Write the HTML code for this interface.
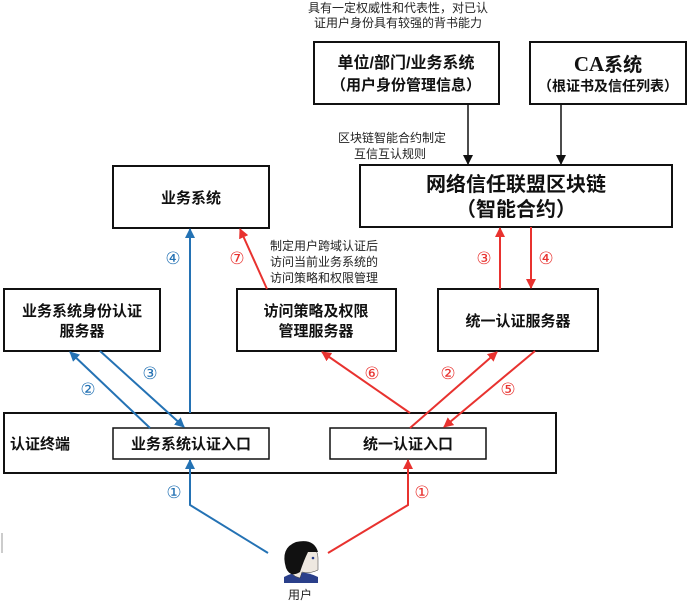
<!DOCTYPE html>
<html><head><meta charset="utf-8"><style>
body{margin:0;background:#fff;}
svg{display:block;font-family:"Liberation Sans","Noto Sans CJK SC",sans-serif;}
.b{font-weight:bold;fill:#111;}
</style></head><body>
<svg width="689" height="603" viewBox="0 0 689 603">
<defs>
<marker id="ab" markerWidth="10" markerHeight="10" refX="9" refY="5" orient="auto" markerUnits="userSpaceOnUse"><path d="M0,0 L10,5 L0,10 z" fill="#2472b4"/></marker>
<marker id="ar" markerWidth="10" markerHeight="10" refX="9" refY="5" orient="auto" markerUnits="userSpaceOnUse"><path d="M0,0 L10,5 L0,10 z" fill="#e8322f"/></marker>
<marker id="ak" markerWidth="10" markerHeight="10" refX="9" refY="5" orient="auto" markerUnits="userSpaceOnUse"><path d="M0,0 L10,5 L0,10 z" fill="#111"/></marker>
</defs>
<g fill="#fff" stroke="#111" stroke-width="2">
<rect x="314" y="42" width="185" height="62"/>
<rect x="530" y="42" width="156" height="62"/>
<rect x="360" y="165" width="312" height="62"/>
<rect x="113" y="166" width="156" height="62"/>
<rect x="4" y="289" width="156" height="62"/>
<rect x="237" y="289" width="159" height="62"/>
<rect x="438" y="289" width="160" height="62"/>
<rect x="4" y="413" width="552" height="60"/>
</g>
<g fill="#fff" stroke="#111" stroke-width="1.5">
<rect x="113" y="428" width="156" height="31"/>
<rect x="330" y="428" width="156" height="31"/>
</g>

<g class="b" text-anchor="middle">
<text x="406" y="68" font-size="16">单位/部门/业务系统</text>
<text x="406" y="90" font-size="15">（用户身份管理信息）</text>
<text x="608" y="71" font-size="21" font-family="Liberation Serif,Noto Serif CJK SC,serif">CA<tspan font-family="Liberation Sans,Noto Sans CJK SC,sans-serif" font-size="19">系统</tspan></text>
<text x="608" y="91" font-size="14">（根证书及信任列表）</text>
<text x="516" y="191" font-size="20">网络信任联盟区块链</text>
<text x="516" y="216" font-size="20">（智能合约）</text>
<text x="191" y="203" font-size="15">业务系统</text>
<text x="82" y="316" font-size="15">业务系统身份认证</text>
<text x="82" y="336" font-size="15">服务器</text>
<text x="316" y="316" font-size="15">访问策略及权限</text>
<text x="316" y="336" font-size="15">管理服务器</text>
<text x="518" y="326" font-size="15">统一认证服务器</text>
<text x="191" y="449" font-size="15">业务系统认证入口</text>
<text x="408" y="449" font-size="15">统一认证入口</text>
<text x="10" y="449" font-size="15" text-anchor="start">认证终端</text>
</g>
<g font-size="12" fill="#222" text-anchor="middle">
<text x="398" y="12">具有一定权威性和代表性，对已认</text>
<text x="398" y="27">证用户身份具有较强的背书能力</text>
<text x="392" y="142">区块链智能合约制定</text>
<text x="390" y="158">互信互认规则</text>
<text x="270" y="250" text-anchor="start">制定用户跨域认证后</text>
<text x="270" y="266" text-anchor="start">访问当前业务系统的</text>
<text x="270" y="282" text-anchor="start">访问策略和权限管理</text>
<text x="300" y="599">用户</text>
</g>
<g stroke="#111" stroke-width="1.5">
<line x1="468" y1="104" x2="468" y2="164" marker-end="url(#ak)"/>
<line x1="561" y1="104" x2="561" y2="164" marker-end="url(#ak)"/>
</g>
<g stroke="#2472b4" stroke-width="2" fill="none">
<line x1="190" y1="413" x2="190" y2="229" marker-end="url(#ab)"/>
<line x1="150" y1="428" x2="70" y2="352" marker-end="url(#ab)"/>
<line x1="100" y1="351" x2="184" y2="427" marker-end="url(#ab)"/>
<polyline points="268,553 190,505 190,460" marker-end="url(#ab)"/>
</g>
<g stroke="#e8322f" stroke-width="2" fill="none">
<line x1="267" y1="289" x2="240" y2="229" marker-end="url(#ar)"/>
<line x1="410" y1="413" x2="322" y2="352" marker-end="url(#ar)"/>
<line x1="410" y1="428" x2="497" y2="352" marker-end="url(#ar)"/>
<line x1="535" y1="351" x2="444" y2="427" marker-end="url(#ar)"/>
<line x1="500" y1="289" x2="500" y2="228" marker-end="url(#ar)"/>
<line x1="531" y1="227" x2="531" y2="288" marker-end="url(#ar)"/>
<polyline points="328,553 408,505 408,460" marker-end="url(#ar)"/>
</g>
<g font-size="17" text-anchor="middle" font-family="DejaVu Sans,sans-serif">
<g fill="#2472b4"><text x="173" y="264">④</text><text x="88" y="395">②</text><text x="150" y="379">③</text><text x="174" y="498">①</text></g>
<g fill="#e8322f"><text x="237" y="264">⑦</text><text x="484" y="264">③</text><text x="546" y="264">④</text><text x="372" y="379">⑥</text><text x="448" y="379">②</text><text x="508" y="395">⑤</text><text x="422" y="498">①</text></g>
</g>
<g>
<path d="M284,577 Q300,568 318,577 L318,583 L284,583 z" fill="#2a3f8a"/>
<path d="M288,565 Q286,548 302,544 Q318,546 318,558 L318,570 Q310,574 302,572 L300,578 Q290,576 288,565z" fill="#eee8e0" stroke="#333" stroke-width="0.5"/>
<path d="M286,568 Q280,548 296,542 Q314,538 318,552 L308,552 Q304,560 300,572 Q290,578 286,568z" fill="#111"/>
<circle cx="313" cy="558" r="1.3" fill="#2a3f8a"/>
</g>
<line x1="2" y1="533" x2="2" y2="553" stroke="#999" stroke-width="1"/>
</svg>
</body></html>
